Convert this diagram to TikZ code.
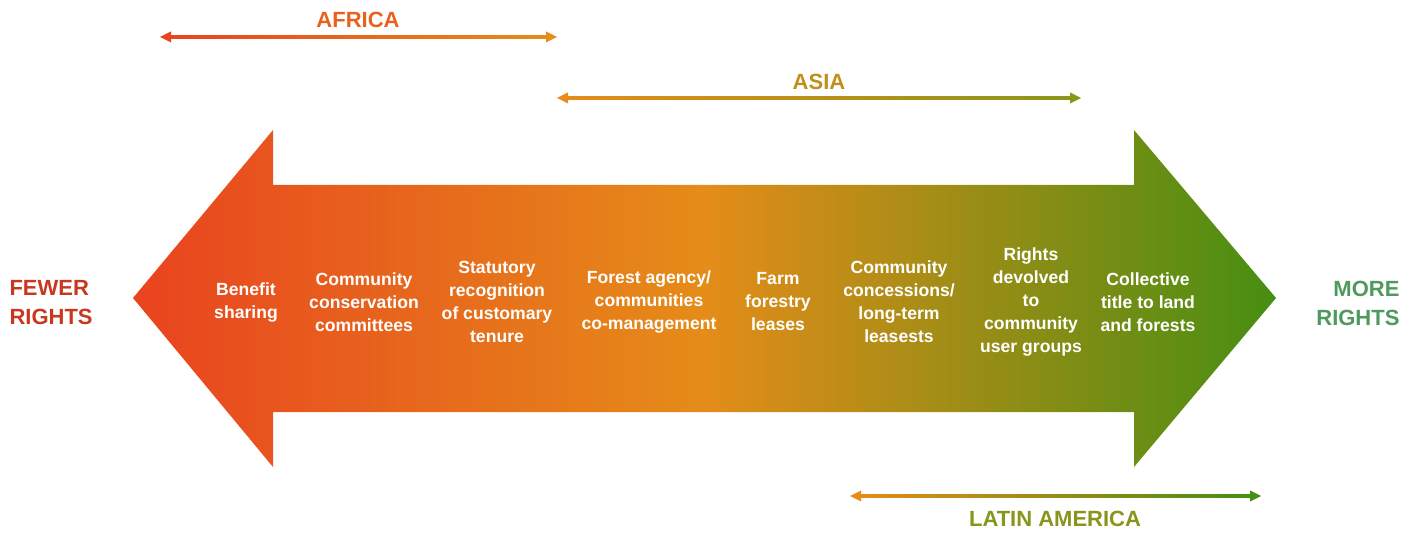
\documentclass[tikz,border=0pt]{standalone}
\usepackage{fontspec}
\setmainfont{Liberation Sans}
\usetikzlibrary{arrows.meta,calc}

\definecolor{fewred}{HTML}{E9431F}
\definecolor{midorange}{HTML}{E58C19}
\definecolor{moregreen}{HTML}{468E12}
\definecolor{africatxt}{HTML}{E8621F}
\definecolor{asiatxt}{HTML}{C0901A}
\definecolor{latamtxt}{HTML}{86961A}
\definecolor{asiaend}{HTML}{8A961A}
\definecolor{fewertxt}{HTML}{C8381F}
\definecolor{moretxt}{HTML}{4E9A5E}

\tikzset{
  stage/.style={text=white,align=center,font=\bfseries\fontsize{17.6}{23}\selectfont},
  region/.style={font=\bfseries\fontsize{22}{28}\selectfont},
  endlabel/.style={font=\bfseries\fontsize{22}{29}\selectfont},
}

\begin{document}
\begin{tikzpicture}[x=1pt,y=-1pt]
  \path[use as bounding box] (0,0) rectangle (1416,534);

  % big double arrow
  \shade[left color=fewred,right color=moregreen,middle color=midorange]
    (133,298) -- (273,130) -- (273,185) -- (1134,185) -- (1134,130) -- (1276,298)
    -- (1134,467) -- (1134,412) -- (273,412) -- (273,467) -- cycle;

  \node[stage] (benefit) at (246,302) {Benefit\\sharing};
  \node[stage] (conserv) at (364,302) {Community\\conservation\\committees};
  \node[stage] (statutory) at (497,302) {Statutory\\recognition\\of customary\\tenure};
  \node[stage] (comgmt) at (649,302) {Forest agency/\\communities\\co-management};
  \node[stage] (farm) at (778,302) {Farm\\forestry\\leases};
  \node[stage] (concess) at (899,302) {Community\\concessions/\\long-term\\leasests};
  \node[stage] (devolved) at (1031,302) {Rights\\devolved\\to\\community\\user groups};
  \node[stage] (collective) at (1148,302) {Collective\\title to land\\and forests};

  \node[endlabel,text=fewertxt,align=left,anchor=west] (fewer) at (6,303) {FEWER\\RIGHTS};
  \node[endlabel,text=moretxt,align=right,anchor=east] (more) at (1403,303) {MORE\\RIGHTS};

  % regions
  \node[region,text=africatxt] (africa) at (358,20) {AFRICA};
  \node[region,text=asiatxt] (asia) at (819,82) {ASIA};
  \node[region,text=latamtxt] (latam) at (1055,519) {LATIN AMERICA};

  \coordinate (afrL) at (160,37);
  \coordinate (afrR) at (557,37);
  \coordinate (asiaL) at (557,98);
  \coordinate (asiaR) at (1081,98);
  \coordinate (latL) at (850,496);
  \coordinate (latR) at (1261,496);

  \shade[left color=fewred,right color=midorange] ($(afrL)+(6,-1.1)$) rectangle ($(afrR)+(-6,1.1)$);
  \fill[fewred] (afrL) -- ++(11,-5.5) -- ++(0,11) -- cycle;
  \fill[midorange] (afrR) -- ++(-11,-5.5) -- ++(0,11) -- cycle;

  \shade[left color=midorange,right color=asiaend] ($(asiaL)+(6,-1.1)$) rectangle ($(asiaR)+(-6,1.1)$);
  \fill[midorange] (asiaL) -- ++(11,-5.5) -- ++(0,11) -- cycle;
  \fill[asiaend] (asiaR) -- ++(-11,-5.5) -- ++(0,11) -- cycle;

  \shade[left color=midorange,right color=moregreen] ($(latL)+(6,-1.1)$) rectangle ($(latR)+(-6,1.1)$);
  \fill[midorange] (latL) -- ++(11,-5.5) -- ++(0,11) -- cycle;
  \fill[moregreen] (latR) -- ++(-11,-5.5) -- ++(0,11) -- cycle;
\end{tikzpicture}
\end{document}
